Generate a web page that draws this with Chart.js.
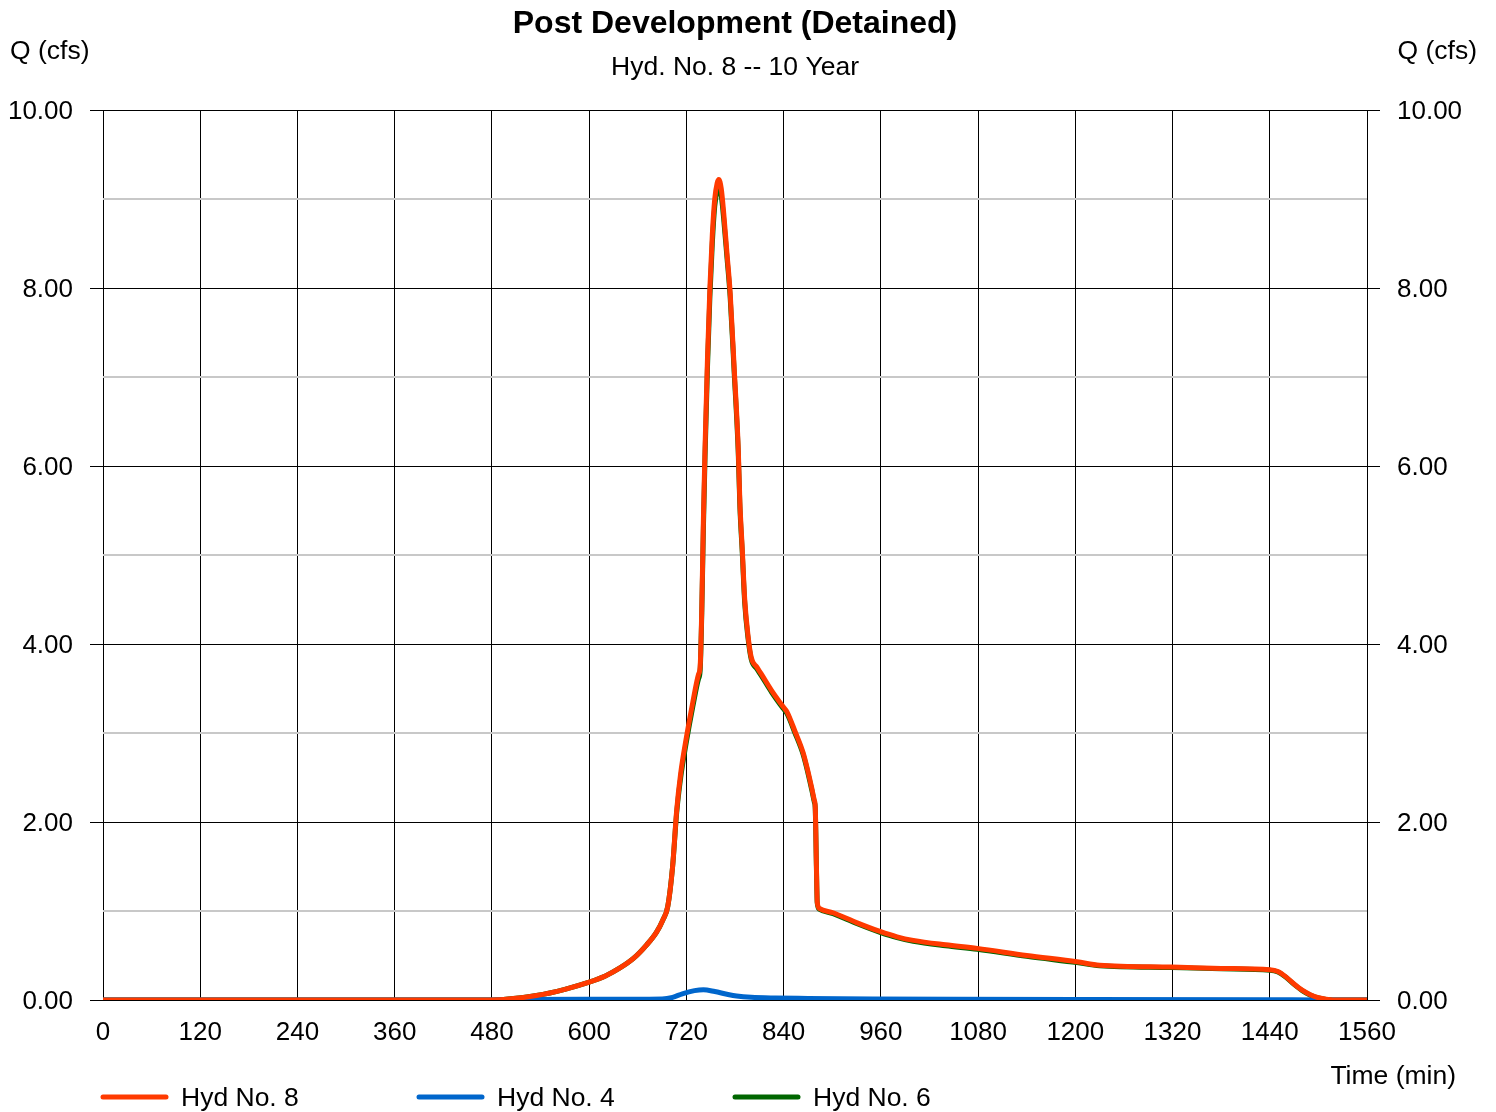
<!DOCTYPE html>
<html>
<head>
<meta charset="utf-8">
<script src="https://cdn.jsdelivr.net/npm/chart.js@4.4.1/dist/chart.umd.min.js"></script>
<style>
  html, body { margin: 0; padding: 0; background: #fff; }
  #wrap { width: 1496px; height: 1112px; position: relative; }
</style>
</head>
<body>
<div id="wrap"><canvas id="c" width="1496" height="1112"></canvas></div>
<script>
// ---- Data ----
const chartTitle = "Post Development (Detained)";
const chartSubtitle = "Hyd. No. 8 -- 10 Year";
const yAxisLabel = "Q (cfs)";
const xAxisLabel = "Time (min)";
const xTicks = [0, 120, 240, 360, 480, 600, 720, 840, 960, 1080, 1200, 1320, 1440, 1560];
const yTicks = [0, 2, 4, 6, 8, 10];

const seriesNames = ["Hyd No. 8", "Hyd No. 4", "Hyd No. 6"];
const seriesColors = ["#ff3a00", "#0066cc", "#006600"];

const hyd8Time = [0, 480, 500, 535, 570, 600, 620, 638, 655, 671, 683, 691, 697, 703, 708, 713, 720, 728, 735, 737, 739, 741, 743, 746, 749, 752, 755, 758, 760, 763, 766, 770, 774, 779, 784, 786, 789, 792, 796, 800, 807, 812, 825, 839, 844, 854, 864, 870, 875, 878, 879, 880.5, 881.5, 884, 901, 930, 959, 980, 1000, 1040, 1079, 1140, 1202, 1230, 1319, 1380, 1440, 1450, 1460, 1470, 1480, 1490, 1500, 1518, 1560];
const hyd8Flow = [0, 0, 0.01, 0.05, 0.12, 0.2, 0.27, 0.36, 0.47, 0.62, 0.76, 0.9, 1.05, 1.5, 2.13, 2.55, 2.95, 3.35, 3.66, 3.75, 4.4, 5.4, 6.2, 7.2, 8.0, 8.6, 9.0, 9.18, 9.22, 9.12, 8.85, 8.4, 7.95, 7.1, 6.2, 5.6, 5.06, 4.5, 4.1, 3.85, 3.74, 3.67, 3.48, 3.3, 3.24, 3.02, 2.78, 2.57, 2.37, 2.24, 2.18, 1.5, 1.1, 1.03, 0.98, 0.87, 0.77, 0.71, 0.67, 0.62, 0.58, 0.5, 0.43, 0.39, 0.37, 0.355, 0.34, 0.32, 0.26, 0.18, 0.11, 0.06, 0.025, 0, 0];

const hyd4Time = [0, 480, 500, 600, 690, 703, 715, 730, 741, 755, 770, 782, 800, 830, 870, 950, 1050, 1200, 1440, 1500, 1560];
const hyd4Flow = [0, 0, 0.005, 0.008, 0.012, 0.03, 0.07, 0.105, 0.115, 0.095, 0.065, 0.045, 0.03, 0.022, 0.018, 0.012, 0.008, 0.005, 0.003, 0, 0];

const hyd6Time = [0, 480, 500, 535, 570, 600, 620, 638, 655, 671, 683, 691, 697, 703, 708, 713, 720, 728, 735, 737, 739, 741, 743, 746, 749, 752, 755, 758, 760, 763, 766, 770, 774, 779, 784, 786, 789, 792, 796, 800, 807, 812, 825, 839, 844, 854, 864, 870, 875, 878, 879, 880.5, 881.5, 884, 901, 930, 959, 980, 1000, 1040, 1079, 1140, 1202, 1230, 1319, 1380, 1440, 1450, 1460, 1470, 1480, 1490, 1500, 1518, 1560];
const hyd6Flow = [0, 0, 0.01, 0.05, 0.12, 0.2, 0.27, 0.36, 0.47, 0.62, 0.76, 0.9, 1.05, 1.5, 2.1, 2.5, 2.9, 3.3, 3.61, 3.7, 4.35, 5.3, 6.1, 7.1, 7.9, 8.5, 8.92, 9.1, 9.14, 9.04, 8.78, 8.35, 7.9, 7.05, 6.15, 5.55, 5.02, 4.46, 4.07, 3.83, 3.72, 3.65, 3.46, 3.28, 3.22, 3.0, 2.76, 2.55, 2.35, 2.22, 2.16, 1.48, 1.09, 1.02, 0.97, 0.86, 0.76, 0.7, 0.66, 0.61, 0.57, 0.49, 0.42, 0.385, 0.365, 0.35, 0.335, 0.315, 0.255, 0.175, 0.105, 0.055, 0.022, 0, 0];

function toPoints(xs, ys) { return xs.map((x, i) => ({ x: x, y: ys[i] })); }

const FONT = "'Liberation Sans', Arial, Helvetica, sans-serif";

const decorPlugin = {
  id: 'decor',
  afterDraw(chart) {
    const ctx = chart.ctx;
    const ca = chart.chartArea;
    ctx.save();
    ctx.fillStyle = '#000';
    // Title
    ctx.textAlign = 'center';
    ctx.textBaseline = 'middle';
    ctx.font = 'bold 32px ' + FONT;
    ctx.fillText(chartTitle, (ca.left + ca.right) / 2, 24);
    ctx.font = '26.5px ' + FONT;
    ctx.fillText(chartSubtitle, (ca.left + ca.right) / 2, 68);
    // Q (cfs) labels
    ctx.textAlign = 'left';
    ctx.fillText(yAxisLabel, 10, 52);
    ctx.textAlign = 'right';
    ctx.fillText(yAxisLabel, 1477, 52);
    // Time (min)
    ctx.font = '26.5px ' + FONT;
    ctx.fillText(xAxisLabel, 1456, 1077);
    // Legend
    const lx = [101, 417, 733];
    const ly = 1097;
    chart.data.datasets.forEach((ds, i) => {
      ctx.strokeStyle = ds.borderColor;
      ctx.lineWidth = 5;
      ctx.lineCap = 'round';
      ctx.beginPath();
      ctx.moveTo(lx[i] + 2, ly);
      ctx.lineTo(lx[i] + 65, ly);
      ctx.stroke();
      ctx.fillStyle = '#000';
      ctx.textAlign = 'left';
      ctx.textBaseline = 'middle';
      ctx.font = '26.5px ' + FONT;
      ctx.fillText(ds.label, lx[i] + 80, ly + 2);
    });
    ctx.restore();
  }
};

const gridColor = (ctx) => (ctx.tick && Math.round(ctx.tick.value) % 2 === 0) ? '#000000' : '#c8c8c8';
const gridWidth = (ctx) => (ctx.tick && Math.round(ctx.tick.value) % 2 === 0) ? 1 : 2;
const tickColor = (ctx) => (ctx.tick && Math.round(ctx.tick.value) % 2 === 0) ? '#000000' : 'rgba(0,0,0,0)';
const yLabel = (v) => yTicks.includes(v) ? v.toFixed(2) : '';

new Chart(document.getElementById('c'), {
  type: 'line',
  data: {
    datasets: [
      { label: seriesNames[0], data: toPoints(hyd8Time, hyd8Flow), borderColor: seriesColors[0], borderWidth: 5, pointRadius: 0, cubicInterpolationMode: 'monotone', fill: false, borderCapStyle: 'round', borderJoinStyle: 'round' },
      { label: seriesNames[1], data: toPoints(hyd4Time, hyd4Flow), borderColor: seriesColors[1], borderWidth: 5, pointRadius: 0, cubicInterpolationMode: 'monotone', fill: false, borderCapStyle: 'round', borderJoinStyle: 'round' },
      { label: seriesNames[2], data: toPoints(hyd6Time, hyd6Flow), borderColor: seriesColors[2], borderWidth: 5, pointRadius: 0, cubicInterpolationMode: 'monotone', fill: false, borderCapStyle: 'round', borderJoinStyle: 'round' }
    ]
  },
  options: {
    responsive: false,
    animation: false,
    devicePixelRatio: 1,
    layout: { padding: { top: 110, left: 0, right: 0, bottom: 0 } },
    plugins: { legend: { display: false }, title: { display: false }, tooltip: { enabled: false } },
    scales: {
      x: {
        type: 'linear',
        min: xTicks[0], max: xTicks[xTicks.length - 1],
        afterBuildTicks: (s) => { s.ticks = xTicks.map(v => ({ value: v })); },
        ticks: { color: '#000', font: { family: FONT, size: 26 }, padding: 17, maxRotation: 0, autoSkip: false, callback: (v) => String(v) },
        grid: { color: '#000', lineWidth: 1, drawTicks: false },
        border: { display: false },
        afterFit: (s) => { s.height = 112; }
      },
      y: {
        type: 'linear', position: 'left',
        min: 0, max: 10,
        ticks: { stepSize: 1, color: '#000', font: { family: FONT, size: 26 }, padding: 17, labelOffset: 2, autoSkip: false, callback: yLabel },
        grid: { color: gridColor, lineWidth: gridWidth, drawTicks: true, tickLength: 13, tickColor: tickColor, tickWidth: 1 },
        border: { display: false },
        afterFit: (s) => { s.width = 103; }
      },
      y2: {
        type: 'linear', position: 'right',
        min: 0, max: 10,
        ticks: { stepSize: 1, color: '#000', font: { family: FONT, size: 26 }, padding: 17, labelOffset: 2, autoSkip: false, callback: yLabel },
        grid: { drawOnChartArea: false, drawTicks: true, tickLength: 13, tickColor: tickColor, tickWidth: 1 },
        border: { display: false },
        afterFit: (s) => { s.width = 129; }
      }
    }
  },
  plugins: [decorPlugin]
});
</script>
</body>
</html>
